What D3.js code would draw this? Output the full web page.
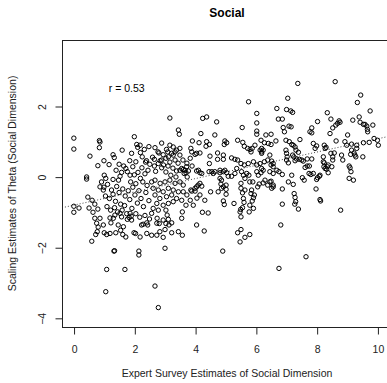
<!DOCTYPE html>
<html>
<head>
<meta charset="utf-8">
<script src="https://cdn.jsdelivr.net/npm/d3@7"></script>
<style>
  html, body { margin: 0; padding: 0; background: #fff; }
  svg { display: block; font-family: "Liberation Sans", Arial, Helvetica, sans-serif; }
</style>
</head>
<body>
<svg id="chart" width="387" height="383"></svg>
<script>
// ---- data ----
const chartTitle = "Social";
const xLabel = "Expert Survey Estimates of Social Dimension";
const yLabel = "Scaling Estimates of Theta (Social Dimension)";
const corrLabel = "r = 0.53";
const corrPos = [1.75, 2.4];
const xTicks = [0, 2, 4, 6, 8, 10];
const yTicks = [-4, -2, 0, 2];
const xDomain = [-0.38, 10.48];
const yDomain = [-4.26, 3.87];
const fitIntercept = -0.81;
const fitSlope = 0.188;

const socialX = [
0.01,0.01,0.85,0.87,0.85,0.54,1.00,1.17,0.80,0.43,0.43,0.01,0.18,0.01,0.47,0.61,0.70,0.51,0.80,0.64,
0.70,0.87,0.76,0.81,0.78,0.73,0.60,1.01,1.09,1.09,1.06,1.33,1.35,1.69,2.15,2.15,2.68,2.79,1.39,1.55,
1.62,1.72,1.99,2.04,1.23,1.20,1.36,1.53,1.58,1.77,1.83,1.86,2.24,2.29,2.41,2.44,2.82,1.34,2.00,2.08,
2.19,2.11,1.91,2.33,2.68,2.26,2.37,2.51,2.66,1.72,1.77,1.86,1.53,1.01,1.06,3.17,
1.00,1.12,1.25,1.05,1.18,1.30,1.42,1.50,1.38,1.55,1.62,1.70,1.68,1.80,1.85,1.92,1.95,2.02,2.10,2.05,
2.15,2.22,2.28,2.30,2.38,2.42,2.48,1.10,1.22,1.35,1.45,1.60,1.75,1.90,2.05,2.18,2.35,2.50,2.75,1.48,
1.30,1.88,2.00,2.12,2.20,2.35,2.45,2.70,2.90,1.58,1.40,1.65,1.95,2.25,2.05,2.40,2.60,2.85,2.95,2.78,
2.48,2.20,1.85,1.50,1.30,1.60,2.90,0.92,0.87,0.98,
2.81,3.06,3.12,2.90,2.96,2.79,2.66,
0.98,1.31,1.47,1.64,1.91,2.74,2.95,2.84,2.74,2.57,2.41,2.19,1.20,
2.57,2.68,2.85,3.01,3.17,3.34,3.50,3.61,2.62,2.79,2.95,3.12,3.28,3.45,3.61,2.68,2.84,3.06,3.23,3.39,
3.56,2.74,2.95,3.12,3.28,2.62,2.79,2.57,
3.01,3.04,3.12,3.08,3.04,3.23,3.58,3.56,3.45,3.58,4.05,4.30,4.24,4.43,2.95,3.01,3.14,3.23,
3.89,4.00,4.22,4.51,4.76,5.02,5.02,4.93,4.85,5.51,5.51,5.80,6.11,5.59,5.61,5.95,5.86,4.93,4.96,5.28,
5.48,5.51,5.50,5.78,5.92,4.91,5.51,5.40,5.48,5.64,5.80,
6.03,6.03,4.38,4.25,4.71,3.45,3.48,4.19,4.65,5.55,6.03,6.03,6.33,6.50,3.91,4.13,4.38,4.47,4.36,5.04,
4.96,5.40,5.57,5.62,5.73,5.81,5.88,5.84,5.97,6.17,6.28,6.41,6.50,6.19,6.24,6.14,6.19,6.19,3.17,3.28,
3.10,3.23,3.34,3.50,3.50,3.86,3.89,4.00,4.05,4.16,4.49,4.74,4.93,4.93,4.74,4.47,5.20,5.31,5.40,5.51,
5.62,5.75,5.92,6.03,6.14,6.28,6.39,6.50,6.57,6.19,6.24,6.17,6.08,6.03,5.70,5.77,5.90,5.53,5.59,5.64,
6.30,6.50,6.57,6.39,6.52,6.06,4.46,4.55,4.60,4.65,4.82,4.82,4.93,4.98,5.04,5.09,5.20,5.31,5.37,4.82,
4.87,4.87,5.02,5.64,5.56,5.84,5.92,5.88,5.80,3.86,4.05,4.10,4.16,4.00,5.56,4.98,
3.56,3.61,3.67,3.78,3.72,3.50,3.39,3.70,3.64,4.05,4.16,4.11,4.22,
3.04,3.17,3.34,3.11,3.27,3.44,3.60,3.73,3.04,3.20,3.37,3.74,3.90,3.84,3.73,3.84,3.94,3.70,4.06,4.16,4.32,
5.76,3.28,3.39,7.38,8.61,8.53,
7.05,9.45,9.34,6.69,7.01,7.15,7.21,9.76,6.74,6.87,6.90,6.94,7.09,7.16,8.03,8.35,8.47,8.74,8.69,8.77,
8.63,9.40,9.19,9.43,9.54,9.65,9.59,9.85,9.67,9.68,7.84,7.78,7.84,8.44,6.66,6.99,7.10,7.18,7.23,7.29,
7.45,7.89,8.00,7.95,8.64,9.02,8.93,8.99,9.15,9.32,9.54,9.73,9.89,10.00,10.03,8.25,8.31,8.28,6.99,7.01,
7.03,7.01,7.07,7.21,7.25,7.34,7.43,7.51,7.56,7.29,6.46,6.52,6.57,7.32,7.40,7.69,7.84,7.62,7.69,7.76,
8.22,8.22,8.25,8.24,8.33,8.35,8.38,8.47,8.53,8.58,8.53,8.82,8.86,9.15,9.23,9.26,9.29,9.32,9.12,9.07,
9.10,9.13,9.52,9.07,9.21,6.46,6.57,6.69,6.76,6.87,6.46,6.57,6.87,7.07,7.23,7.26,7.18,7.53,7.59,7.75,
7.81,7.89,8.00,8.03,8.09,8.11,8.28,8.38,8.50,7.98,8.11,7.29,7.31,7.40,6.87,8.79,
6.76,7.65,6.82,7.28,6.24,8.13
];
const socialY = [
1.09,0.78,1.02,0.98,0.82,0.58,0.45,0.34,0.31,-0.01,-0.07,-0.84,-0.89,-1.01,-0.58,-0.67,-0.78,-0.89,-0.92,-1.01,
-1.18,-1.18,-1.32,-1.43,-1.56,-1.64,-1.83,-1.59,-1.64,-2.63,-3.26,-2.11,-2.10,-2.63,-2.11,-2.22,-3.10,-3.71,-1.59,-1.52,
-1.64,-1.71,-1.59,-1.61,-1.31,-1.17,-1.09,-1.04,-1.14,-1.21,-1.16,-1.04,-1.37,-1.35,-1.31,-1.37,-1.33,0.54,1.13,0.91,
0.89,0.83,0.66,0.77,0.82,0.56,0.41,0.35,0.30,0.23,0.14,0.04,0.01,0.04,-0.05,1.66,
-0.30,-0.22,-0.38,-0.55,-0.62,-0.50,-0.28,-0.45,-0.70,-0.78,-0.35,-0.55,-0.82,-0.40,-0.65,-0.90,-0.30,-0.52,-0.75,-0.20,
-0.40,-0.62,-0.15,-0.85,-0.45,-0.25,-0.68,-0.85,-0.95,-0.88,-1.00,-0.95,-1.05,-1.12,-1.05,-1.15,-1.10,-1.20,-1.18,-0.10,
-0.08,-0.15,0.05,0.12,-0.05,0.08,0.18,0.15,0.25,0.12,0.18,0.30,0.28,0.25,0.42,0.45,0.55,0.45,0.62,0.70,
0.85,0.68,0.45,0.35,0.62,0.75,0.95,-0.15,-0.29,-0.38,
0.67,0.77,0.56,0.47,0.33,0.37,0.49,
-1.37,-1.18,-1.37,-1.42,-1.23,-1.32,-1.23,-1.56,-1.66,-1.66,-1.61,-1.71,-1.61,
-0.15,-0.10,-0.19,-0.15,-0.10,-0.19,-0.15,-0.24,-0.33,-0.38,-0.43,-0.33,-0.38,-0.43,-0.43,-0.52,-0.62,-0.57,-0.52,-0.62,
-0.67,-0.76,-0.81,-0.76,-0.71,-0.90,-0.95,-1.04,
-1.50,-1.33,-1.21,-1.09,-0.95,-1.31,-1.00,-1.18,-1.56,-1.66,-1.37,-1.54,-1.01,-1.03,-1.72,-2.03,-1.37,-1.59,
-0.41,-0.33,-0.27,-0.43,-0.43,-0.50,-0.24,-0.29,-0.21,-0.19,-0.33,-0.15,-0.21,-0.62,-0.73,-0.52,-0.38,-0.69,-0.79,-0.76,
-1.00,-1.14,-0.93,-1.00,-0.90,-2.11,-1.50,-1.59,-1.85,-1.72,-1.64,
1.79,1.52,1.69,1.65,1.55,1.32,1.20,1.22,1.18,1.39,1.29,1.20,1.18,1.20,1.01,0.96,0.99,0.91,0.86,0.96,
0.91,1.03,0.97,0.86,0.80,0.77,0.80,0.70,0.89,1.03,0.96,0.94,0.91,0.80,0.75,0.75,0.70,0.66,0.89,0.84,
0.70,0.66,0.70,0.80,0.61,0.80,0.70,0.63,0.66,0.67,0.58,0.67,0.61,0.49,0.49,0.37,0.53,0.49,0.47,0.37,
0.33,0.37,0.42,0.33,0.37,0.42,0.47,0.33,0.28,0.23,0.18,0.11,0.04,0.14,0.09,0.04,-0.15,0.14,0.04,-0.05,
-0.10,-0.13,-0.24,-0.24,-0.33,-0.29,0.14,0.14,0.09,0.14,0.18,0.11,0.14,0.18,0.11,0.01,0.01,0.09,0.23,-0.05,
-0.10,-0.33,-0.36,-0.38,-0.46,-0.48,-0.60,-0.69,-0.81,-0.38,-0.29,-0.24,-0.19,-0.41,-0.88,1.01,
0.23,0.20,0.18,0.16,0.28,0.18,0.16,0.11,0.09,0.16,0.11,0.18,0.09,
0.52,0.41,0.47,0.30,0.24,0.38,0.47,0.38,0.13,0.04,-0.01,-0.01,0.30,0.52,-0.52,-0.67,-0.81,-0.81,-0.61,-0.52,-0.67,
2.12,0.61,0.75,2.64,2.69,1.38,
2.22,2.31,2.10,1.93,1.90,1.86,1.82,1.86,1.63,1.63,1.39,1.27,1.43,1.41,1.56,1.81,1.63,1.58,1.51,1.54,
1.46,1.69,1.60,1.54,1.48,1.43,1.48,1.46,1.34,1.27,1.38,1.27,1.24,1.22,1.01,1.03,0.99,0.91,0.89,0.84,
1.05,0.94,0.87,0.80,1.01,1.18,0.99,0.89,0.92,0.89,0.96,0.97,1.08,1.03,0.89,0.89,0.83,0.80,0.75,0.66,
0.56,0.47,0.39,0.61,0.56,0.50,0.49,0.47,0.44,0.45,0.61,0.44,0.37,0.75,0.69,0.50,0.50,0.26,0.30,0.30,
0.56,0.42,0.39,0.28,0.21,0.28,0.33,0.66,0.56,0.67,0.47,0.61,0.47,0.75,0.67,0.61,0.56,0.80,0.63,0.30,
0.25,0.14,0.56,-0.05,-0.10,0.14,0.09,0.18,0.14,0.06,-0.15,-0.29,-0.35,-0.15,-0.22,-0.48,0.04,-0.03,-0.10,0.09,
0.06,0.09,-0.08,-0.03,0.01,0.04,0.23,0.11,0.28,-0.35,-0.65,-0.59,-0.71,-0.92,-0.78,-0.95,
-2.60,-2.27,-1.37,-0.78,-0.18,-0.69
];

// ---- layout ----
const W = 387, H = 383;
const plot = { left: 62, top: 40, right: 392, bottom: 327 };

const svg = d3.select("#chart");
const x = d3.scaleLinear().domain(xDomain).range([plot.left, plot.right]);
const y = d3.scaleLinear().domain(yDomain).range([plot.bottom, plot.top]);

const points = socialX.map((v, i) => ({ x: v, y: socialY[i] }));

// title
svg.append("text")
  .attr("x", (plot.left + plot.right) / 2)
  .attr("y", 17)
  .attr("text-anchor", "middle")
  .attr("font-size", 12)
  .attr("font-weight", "bold")
  .text(chartTitle);

// clip for the plotting region
const clipId = "plotclip";
svg.append("clipPath").attr("id", clipId)
  .append("rect")
  .attr("x", plot.left).attr("y", plot.top)
  .attr("width", plot.right - plot.left).attr("height", plot.bottom - plot.top);

const gPlot = svg.append("g").attr("clip-path", `url(#${clipId})`);

// regression line (dotted)
const fitLine = d3.line().x(d => x(d)).y(d => y(fitIntercept + fitSlope * d));
gPlot.append("path")
  .datum(xDomain)
  .attr("d", fitLine)
  .attr("fill", "none")
  .attr("stroke", "#444")
  .attr("stroke-width", 1)
  .attr("stroke-dasharray", "1,2");

gPlot.selectAll("circle.pt")
  .data(points)
  .join("circle")
  .attr("class", "pt")
  .attr("cx", d => x(d.x))
  .attr("cy", d => y(d.y))
  .attr("r", 2.2)
  .attr("fill", "none")
  .attr("stroke", "#000")
  .attr("stroke-width", 1);

// correlation label
svg.append("text")
  .attr("x", x(corrPos[0]))
  .attr("y", y(corrPos[1]))
  .attr("text-anchor", "middle")
  .attr("font-size", 10.5)
  .text(corrLabel);

// box
svg.append("rect")
  .attr("x", plot.left + 0.5).attr("y", plot.top + 0.5)
  .attr("width", plot.right - plot.left).attr("height", plot.bottom - plot.top)
  .attr("fill", "none").attr("stroke", "#222").attr("stroke-width", 1);

// x axis
const gx = svg.append("g")
  .attr("transform", `translate(0.5,${plot.bottom + 0.5})`)
  .call(d3.axisBottom(x).tickValues(xTicks).tickSize(7).tickSizeOuter(0).tickFormat(d3.format("d")));
gx.select(".domain").attr("d", `M${x(xTicks[0])},0H${x(xTicks[xTicks.length-1])}`).attr("stroke", "#222");
gx.selectAll(".tick line").attr("stroke", "#222");
gx.selectAll(".tick text")
  .attr("y", 25).attr("dy", null)
  .attr("font-size", 10.5).attr("font-family", "Liberation Sans, Arial, sans-serif").attr("fill", "#222");

// y axis
const gy = svg.append("g")
  .attr("transform", `translate(${plot.left + 0.5},0.5)`)
  .call(d3.axisLeft(y).tickValues(yTicks).tickSize(7).tickSizeOuter(0).tickFormat(d3.format("d")));
gy.select(".domain").attr("d", `M0,${y(yTicks[0])}V${y(yTicks[yTicks.length-1])}`).attr("stroke", "#222");
gy.selectAll(".tick line").attr("stroke", "#222");
gy.selectAll(".tick text")
  .attr("x", null).attr("dy", null)
  .attr("text-anchor", "middle")
  .attr("transform", "translate(-17,0) rotate(-90)")
  .attr("font-size", 10.5).attr("font-family", "Liberation Sans, Arial, sans-serif").attr("fill", "#222");

// axis titles
svg.append("text")
  .attr("x", (plot.left + plot.right) / 2)
  .attr("y", 377)
  .attr("text-anchor", "middle")
  .attr("font-size", 10.5)
  .attr("fill", "#222")
  .text(xLabel);

svg.append("text")
  .attr("transform", `translate(15.5,${(plot.top + plot.bottom) / 2}) rotate(-90)`)
  .attr("text-anchor", "middle")
  .attr("font-size", 10.5)
  .attr("fill", "#222")
  .text(yLabel);
</script>
</body>
</html>
